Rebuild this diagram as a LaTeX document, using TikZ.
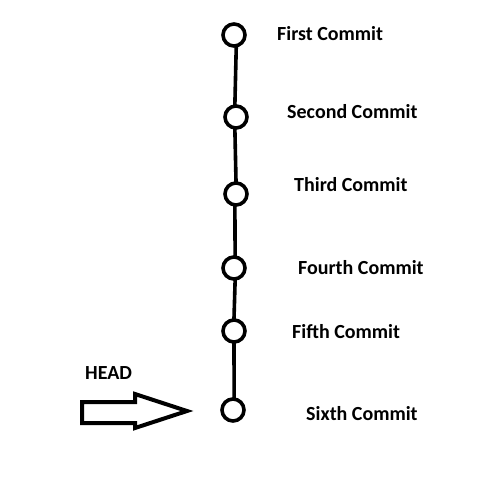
\documentclass[tikz,border=0pt]{standalone}
\usepackage{fontspec}
\setmainfont{Carlito}
\begin{document}
\begin{tikzpicture}[x=1pt,y=-1pt,
  commit/.style={draw,circle,line width=3.6pt,minimum size=22pt,inner sep=0pt},
  link/.style={line width=3.6pt,shorten <=-2pt,shorten >=-2pt},
  lbl/.style={anchor=base west,inner sep=0pt,font=\fontsize{20}{24}\selectfont\bfseries},
  block/.style={line width=4pt,line join=miter,fill=white}]
\useasboundingbox (0,0) rectangle (492,491);
\fill[white] (0,0) rectangle (492,491);
\node[commit] (c1) at (234,35) {};
\node[commit] (c2) at (236,117) {};
\node[commit] (c3) at (236,194) {};
\node[commit] (c4) at (234,268) {};
\node[commit] (c5) at (234,331) {};
\node[commit] (c6) at (233,410) {};
\draw[link] (c1.-80) -- (c2.95);
\draw[link] (c2.-95) -- (c3.90);
\draw[link] (c3.-95) -- (c4.85);
\draw[link] (c4.-85) -- (c5.90);
\draw[link] (c5.-90) -- (c6.85);
\node[lbl] (t1) at (277,40) {First Commit};
\node[lbl] (t2) at (287,118) {Second Commit};
\node[lbl] (t3) at (294,191) {Third Commit};
\node[lbl] (t4) at (298,274) {Fourth Commit};
\node[lbl] (t5) at (292,338) {Fifth Commit};
\node[lbl] (t6) at (306,420) {Sixth Commit};
\node[lbl] (head) at (85,379) {HEAD};
\draw[block] (82,402) -- (135,402) -- (135,394) -- (187,411) -- (135,428) -- (135,423) -- (82,423) -- cycle;
\end{tikzpicture}
\end{document}
